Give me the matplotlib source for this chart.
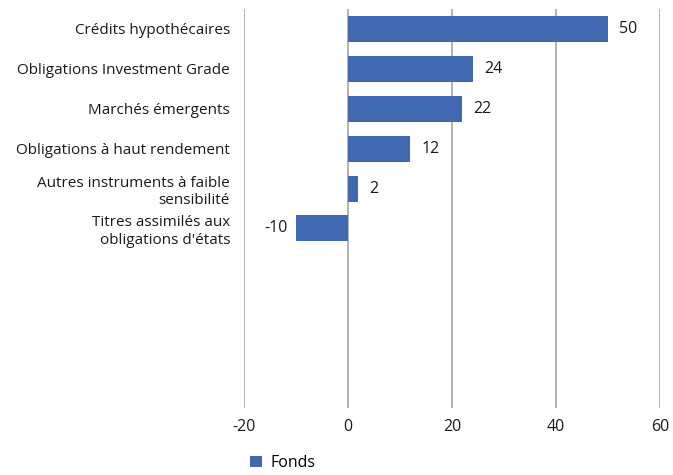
import matplotlib.pyplot as plt
import numpy as np

plt.rcParams['font.family'] = ['Open Sans', 'DejaVu Sans']

categories = ["Crédits hypothécaires",
              "Obligations Investment Grade",
              "Marchés émergents",
              "Obligations à haut rendement",
              "Autres instruments à faible\nsensibilité",
              "Titres assimilés aux\nobligations d'états",
              "", "", "", ""]
values = [50, 24, 22, 12, 2, -10]
xticks = [-20, 0, 20, 40, 60]

bar_color = '#4169b1'
grid_color = '#a6a6a6'
text_color = '#1a1a1a'

fig = plt.figure(figsize=(6.73, 4.75), dpi=100)
ax = fig.add_axes([244 / 673, 1 - 408 / 475, (660 - 244) / 673, (408 - 9) / 475])

pos = np.arange(len(values))
bars = ax.barh(pos, values, height=0.65, color=bar_color, label='Fonds', zorder=3)

for b, v in zip(bars, values):
    y = b.get_y() + b.get_height() / 2
    if v >= 0:
        ax.annotate(str(v), (v, y), xytext=(8, 0), textcoords='offset points',
                    ha='left', va='center', fontsize=11.5, color=text_color)
    else:
        ax.annotate(str(v), (v, y), xytext=(-6, 0), textcoords='offset points',
                    ha='right', va='center', fontsize=11.5, color=text_color)

ax.set_xlim(-20, 60)
ax.set_ylim(len(categories) - 0.5, -0.5)
ax.set_xticks(xticks)
ax.set_xticklabels([str(t) for t in xticks], fontsize=11.5, color=text_color)
ax.set_yticks(np.arange(len(categories)))
ax.set_yticklabels(categories, fontsize=11, color=text_color, linespacing=1.2)
ax.tick_params(axis='y', length=0, pad=10)
ax.tick_params(axis='x', length=0, pad=8)
ax.grid(axis='x', color=grid_color, linewidth=1.2, zorder=0)
for s in ax.spines.values():
    s.set_visible(False)

fig.legend(loc='center left', bbox_to_anchor=(236 / 673, 1 - 463 / 475), frameon=False,
           fontsize=11.5, handlelength=0.75, handleheight=0.75, handletextpad=0.5)

fig.savefig('out.png', dpi=100)
